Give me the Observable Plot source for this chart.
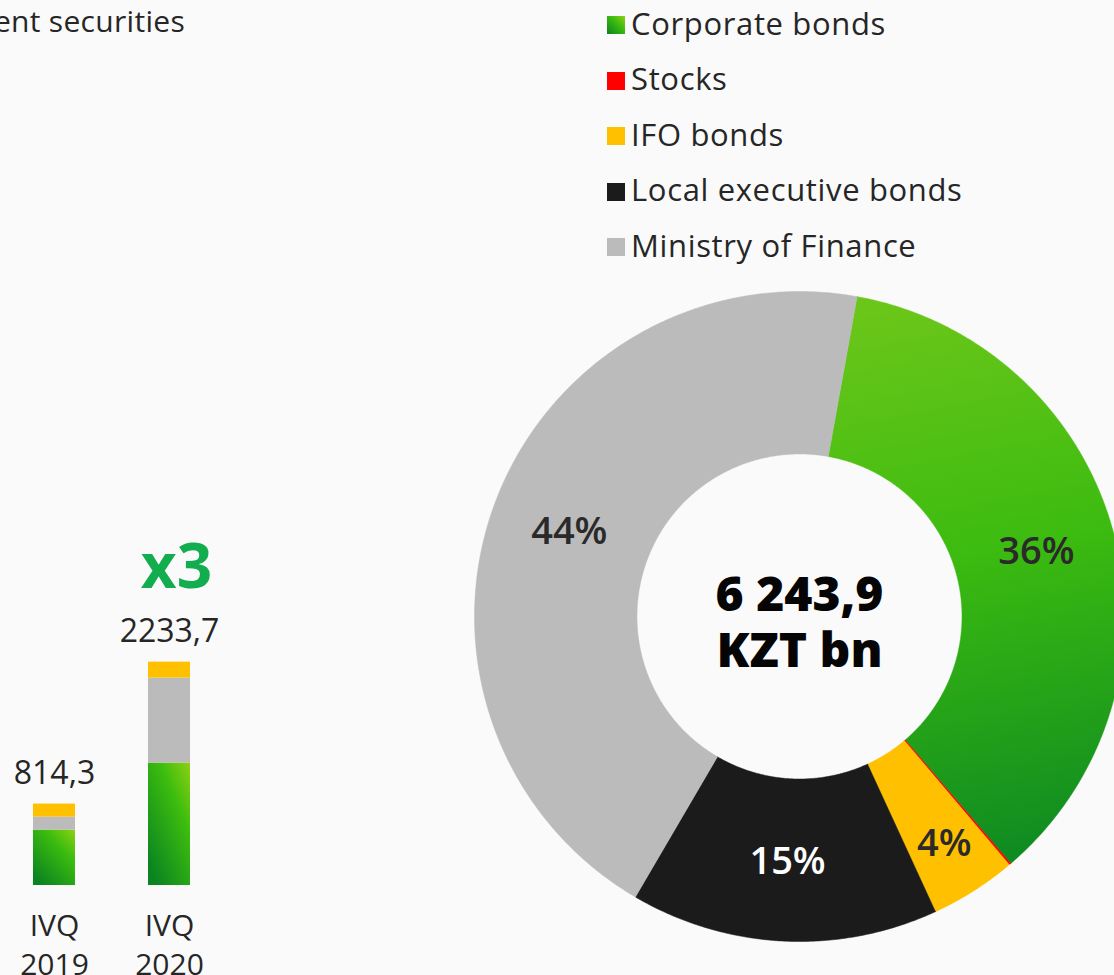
<!DOCTYPE html>
<html>
<head>
<meta charset="utf-8">
<script src="https://cdn.jsdelivr.net/npm/d3@7"></script>
<script src="https://cdn.jsdelivr.net/npm/@observablehq/plot@0.6"></script>
<style>
  html, body { margin: 0; padding: 0; background: #fafafa; }
  #root { position: relative; width: 1114px; height: 975px; overflow: hidden; font-family: "Open Sans", sans-serif; color: #262626; background: #fafafa; }
  .abs { position: absolute; }
  #title { top: 6px; right: 929px; font-size: 30px; line-height: 30px; white-space: nowrap; letter-spacing: 0.3px; }
  #legend { left: 607px; top: -4.4px; }
  .row { display: flex; align-items: center; height: 55.6px; line-height: 55.6px; font-size: 31px; letter-spacing: 0.65px; white-space: nowrap; }
  .sw { width: 18px; height: 18px; margin-right: 6px; margin-top: 3px; flex: none; }
  #bars { left: 0; top: 0; width: 223px; height: 975px; }
  #donut { left: 460px; top: 280px; width: 654px; height: 695px; }
</style>
</head>
<body>
<svg width="0" height="0" style="position:absolute">
  <defs>
    <linearGradient id="gBar" x1="1" y1="0" x2="0.2" y2="1">
      <stop offset="0" stop-color="#8fd014"/>
      <stop offset="0.35" stop-color="#3dbd0e"/>
      <stop offset="1" stop-color="#0a8321"/>
    </linearGradient>
    <linearGradient id="gDonut" x1="0.45" y1="0" x2="0.55" y2="1">
      <stop offset="0" stop-color="#6ac619"/>
      <stop offset="0.45" stop-color="#3cbb10"/>
      <stop offset="1" stop-color="#0e8b21"/>
    </linearGradient>
  </defs>
</svg>
<div id="root">
  <div id="title" class="abs"></div>
  <div id="legend" class="abs"></div>
  <div id="bars" class="abs"></div>
  <div id="donut" class="abs"></div>
</div>
<script>
// ---------- data ----------
const titleText = "ent securities";

const barPeriods = ["IVQ 2019", "IVQ 2020"];
const barSeries = ["Corporate bonds", "Ministry of Finance", "IFO bonds"];
const barCorporate = [554, 1224];
const barMinistry = [130, 850];
const barIFO = [130.3, 159.7];
const barTotals = [814.3, 2233.7];
const growthLabel = "x3";

const donutCategories = ["Corporate bonds", "Stocks", "IFO bonds", "Local executive bonds", "Ministry of Finance"];
const donutValues = [2242, 6, 268, 955, 2772.9];
const donutTotal = 6243.9;
const donutUnit = "KZT bn";

const legendCategories = ["Corporate bonds", "Stocks", "IFO bonds", "Local executive bonds", "Ministry of Finance"];

// ---------- styles ----------
const colorOf = {
  "Corporate bonds": "url(#gDonut)",
  "Stocks": "#ff0000",
  "IFO bonds": "#ffc000",
  "Local executive bonds": "#1b1b1b",
  "Ministry of Finance": "#bbbbbb"
};
const legendCss = {
  "Corporate bonds": "linear-gradient(225deg,#8fd014,#3dbd0e 40%,#0a8321)",
  "Stocks": "#ff0000",
  "IFO bonds": "#ffc000",
  "Local executive bonds": "#1b1b1b",
  "Ministry of Finance": "#bbbbbb"
};

const ruLocale = d3.formatLocale({decimal: ",", thousands: " ", grouping: [3], currency: ["", ""]});
const fmtBar = ruLocale.format(".1f");
const fmtTotal = ruLocale.format(",.1f");

// ---------- title ----------
document.getElementById("title").textContent = titleText;

// ---------- legend ----------
const leg = document.getElementById("legend");
for (const c of legendCategories) {
  const row = document.createElement("div");
  row.className = "row";
  const sw = document.createElement("div");
  sw.className = "sw";
  sw.style.background = legendCss[c];
  const t = document.createElement("span");
  t.textContent = c;
  row.appendChild(sw);
  row.appendChild(t);
  leg.appendChild(row);
}

// ---------- bars ----------
const barData = [];
barSeries.forEach((s, si) => {
  const vals = [barCorporate, barMinistry, barIFO][si];
  barPeriods.forEach((p, pi) => barData.push({period: p, series: s, value: vals[pi]}));
});
const totalsData = barPeriods.map((p, i) => ({period: p, total: barTotals[i]}));

const barsPlot = Plot.plot({
  width: 223,
  height: 975,
  marginTop: 0,
  marginBottom: 90,
  marginLeft: 0,
  marginRight: 0,
  style: {background: "transparent", fontFamily: "Open Sans", color: "#262626", overflow: "visible"},
  x: {domain: barPeriods, paddingInner: 0.635, paddingOuter: 0.287, axis: null, label: null},
  y: {domain: [0, 8850], axis: null},
  color: {domain: barSeries, range: ["url(#gBar)", "#bbbbbb", "#ffc000"]},
  marks: [
    Plot.barY(barData, {x: "period", y: "value", fill: "series", order: barSeries}),
    Plot.axisX({label: null, tickSize: 0, tickPadding: 23, fontSize: 30, lineHeight: 1.3, letterSpacing: 0.5, tickFormat: d => d.replace(" ", "\n")}),
    Plot.text(totalsData, {x: "period", y: "total", text: d => fmtBar(d.total), dy: -30, fontSize: 32, fill: "#262626"}),
    Plot.text([{period: barPeriods[1], total: barTotals[1], label: growthLabel}], {x: "period", y: "total", text: "label", dy: -94, dx: 7, fontSize: 62, fontWeight: 700, fill: "#12ad4e"})
  ]
});
document.getElementById("bars").appendChild(barsPlot);

// ---------- donut ----------
const W = 654, H = 695, cx = 339, cy = 336, Rpx = 325;
const R1 = 1, R0 = 0.5;
const startDeg = 10.2;
const sumV = d3.sum(donutValues);
let acc = startDeg;
const slices = donutCategories.map((c, i) => {
  const a0 = acc, a1 = acc + donutValues[i] / sumV * 360;
  acc = a1;
  return {cat: c, a0, a1, share: donutValues[i] / sumV};
});
const rad = a => a * Math.PI / 180;
const pts = [];
for (const s of slices) {
  const n = Math.max(2, Math.ceil((s.a1 - s.a0) / 0.5));
  const angs = d3.range(n + 1).map(k => s.a0 + (s.a1 - s.a0) * k / n);
  const ring = [];
  for (const a of angs) ring.push({cat: s.cat, x: R1 * Math.sin(rad(a)), y: R1 * Math.cos(rad(a))});
  for (const a of angs.slice().reverse()) ring.push({cat: s.cat, x: R0 * Math.sin(rad(a)), y: R0 * Math.cos(rad(a))});
  ring.push({...ring[0]});
  pts.push(...ring);
}
const labels = slices.filter(s => s.share >= 0.01).map(s => {
  const m = (s.a0 + s.a1) / 2;
  const r = s.share < 0.06 ? 0.83 : 0.755;
  return {x: r * Math.sin(rad(m)), y: r * Math.cos(rad(m)), text: Math.round(s.share * 100) + "%",
          fill: s.cat === "Local executive bonds" ? "#ffffff" : "#2a2a2a"};
});
const centerLines = [fmtTotal(donutTotal), donutUnit];

const donutPlot = Plot.plot({
  width: W,
  height: H,
  margin: 0,
  style: {background: "transparent", fontFamily: "Open Sans", overflow: "visible"},
  x: {domain: [-cx / Rpx, (W - cx) / Rpx], axis: null},
  y: {domain: [-(H - cy) / Rpx, cy / Rpx], axis: null},
  color: {domain: donutCategories, range: donutCategories.map(c => colorOf[c])},
  marks: [
    Plot.line(pts, {x: "x", y: "y", z: "cat", fill: "cat", stroke: "cat", strokeWidth: 0.5, curve: "linear"}),
    Plot.text(labels, {x: "x", y: "y", text: "text", fill: d => d.fill, fontSize: 38, fontWeight: 600}),
    Plot.text([{x: 0, y: 0, text: centerLines[0]}], {x: "x", y: "y", text: "text", dy: -21, fontSize: 48, fontWeight: 800, fill: "#050505"}),
    Plot.text([{x: 0, y: 0, text: centerLines[1]}], {x: "x", y: "y", text: "text", dy: 35, fontSize: 48, fontWeight: 800, fill: "#050505"})
  ]
});
document.getElementById("donut").appendChild(donutPlot);
</script>
</body>
</html>
